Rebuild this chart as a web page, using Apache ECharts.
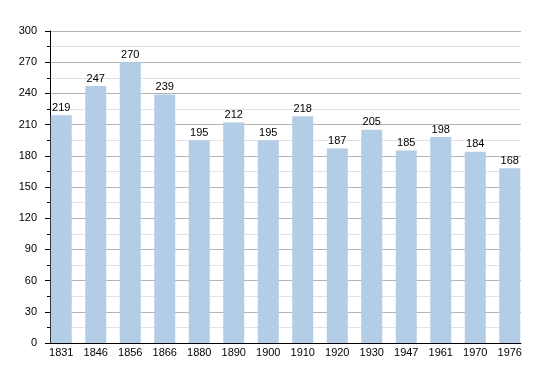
<!DOCTYPE html>
<html><head><meta charset="utf-8">
<script src="https://cdn.jsdelivr.net/npm/echarts@6/dist/echarts.min.js"></script>
<style>html,body{margin:0;padding:0;background:#fff}#c{width:550px;height:373px}</style>
</head><body><div id="c"></div>
<script>
const years = ['1831','1846','1856','1866','1880','1890','1900','1910','1920','1930','1947','1961','1970','1976'];
const population = [219,247,270,239,195,212,195,218,187,205,185,198,184,168];
const yMin = 0, yMax = 300, yStep = 30;
const font = 'Liberation Sans, Arial, sans-serif';
const chart = echarts.init(document.getElementById('c'), null, {renderer:'canvas'});
chart.setOption({
  animation:false,
  grid:[
    {left:50, right:29, top:31, bottom:30},
    {left:44, right:23, top:31, bottom:30}
  ],
  xAxis:[
    {gridIndex:0, type:'value', min:0, max:1, axisLine:{show:true,lineStyle:{color:'#000',width:1}}, axisTick:{show:false}, axisLabel:{show:false}, splitLine:{show:false}},
    {gridIndex:1, type:'category', data:years, axisLine:{show:false}, axisTick:{show:false},
     axisLabel:{color:'#000', fontSize:11, fontFamily:font, margin:4}}
  ],
  yAxis:[
    {gridIndex:0, type:'value', min:yMin, max:yMax, interval:yStep,
     axisLine:{show:true, lineStyle:{color:'#000', width:1}},
     axisTick:{show:true, length:5, lineStyle:{color:'#000'}},
     minorTick:{show:true, splitNumber:2, length:3, lineStyle:{color:'#000'}},
     axisLabel:{color:'#000', fontSize:11, fontFamily:font, margin:13},
     splitLine:{show:true, lineStyle:{color:'#b4b4b4', width:1}},
     minorSplitLine:{show:true, lineStyle:{color:'#e2e2e2', width:1}}},
    {gridIndex:1, type:'value', min:yMin, max:yMax, interval:yStep, show:false}
  ],
  series:[{
    type:'bar', xAxisIndex:1, yAxisIndex:1, data:population, barWidth:21,
    itemStyle:{color:'#b3cde6'},
    label:{show:true, position:'top', color:'#000', fontSize:11, fontFamily:font, distance:2}
  }]
});
</script></body></html>
